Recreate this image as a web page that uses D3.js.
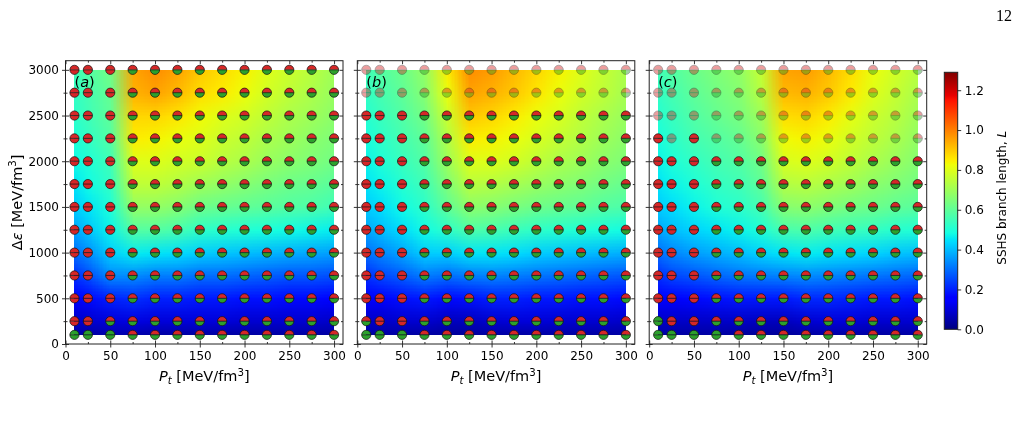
<!DOCTYPE html>
<html><head><meta charset="utf-8">
<script src="https://cdn.jsdelivr.net/npm/d3@7"></script>
<style>
body{margin:0;background:#fff}
#wrap{position:relative;width:1020px;height:421px;overflow:hidden}
#wrap canvas,#wrap svg{position:absolute;left:0;top:0}
</style></head>
<body><div id="wrap"><canvas id="cv" width="1020" height="421"></canvas><svg id="sv" width="1020" height="421"></svg></div>
<script>
// ---------------- data ----------------
const xGrid=[10,25,50,75,100,125,150,175,200,225,250,275,300];
const yGrid=[3000,2750,2500,2250,2000,1750,1500,1250,1000,750,500,250,100];
const xTicks=[0,50,100,150,200,250,300];
const xMinor=[25,75,125,175,225,275];
const yTicks=[0,500,1000,1500,2000,2500,3000];
const yMinor=[250,750,1250,1750,2250,2750];
const cbTicks=[0,0.2,0.4,0.6,0.8,1.0,1.2];
const panelLabels=["a","b","c"];

// branch length L, one array per column (x = xGrid[i]), values for y = yGrid (3000 -> 100)
const valuesA=[
 [0.55,0.53,0.52,0.50,0.48,0.45,0.42,0.37,0.30,0.22,0.15,0.08,0.04],
 [0.58,0.56,0.55,0.53,0.50,0.48,0.45,0.41,0.34,0.26,0.17,0.09,0.04],
 [0.63,0.61,0.60,0.58,0.55,0.53,0.50,0.47,0.42,0.34,0.20,0.10,0.05],
 [0.95,0.93,0.88,0.85,0.80,0.75,0.68,0.58,0.46,0.34,0.22,0.11,0.05],
 [0.98,0.95,0.88,0.84,0.80,0.75,0.68,0.58,0.45,0.32,0.20,0.10,0.04],
 [0.95,0.92,0.86,0.82,0.78,0.73,0.66,0.56,0.44,0.32,0.20,0.10,0.04],
 [0.90,0.87,0.83,0.80,0.77,0.70,0.62,0.52,0.42,0.30,0.19,0.10,0.04],
 [0.87,0.85,0.80,0.77,0.74,0.68,0.61,0.51,0.41,0.30,0.19,0.10,0.04],
 [0.84,0.82,0.78,0.75,0.72,0.66,0.60,0.50,0.40,0.29,0.18,0.09,0.04],
 [0.80,0.78,0.75,0.72,0.69,0.64,0.59,0.49,0.39,0.28,0.18,0.09,0.04],
 [0.77,0.75,0.72,0.70,0.67,0.62,0.58,0.48,0.38,0.27,0.17,0.09,0.04],
 [0.74,0.72,0.70,0.67,0.65,0.61,0.57,0.47,0.37,0.27,0.17,0.09,0.04],
 [0.70,0.69,0.67,0.65,0.63,0.59,0.55,0.46,0.36,0.26,0.16,0.08,0.04]
];
const valuesB=[
 [0.55,0.53,0.51,0.49,0.47,0.45,0.42,0.37,0.30,0.22,0.15,0.08,0.04],
 [0.58,0.56,0.54,0.52,0.50,0.47,0.44,0.40,0.33,0.25,0.16,0.08,0.04],
 [0.62,0.60,0.58,0.56,0.54,0.51,0.48,0.44,0.37,0.28,0.18,0.09,0.04],
 [0.68,0.66,0.63,0.60,0.58,0.55,0.52,0.48,0.42,0.32,0.19,0.09,0.04],
 [0.85,0.82,0.77,0.73,0.70,0.65,0.60,0.52,0.42,0.30,0.17,0.07,0.03],
 [0.98,0.95,0.90,0.85,0.80,0.74,0.67,0.57,0.45,0.32,0.18,0.07,0.03],
 [0.96,0.93,0.88,0.84,0.80,0.73,0.66,0.56,0.45,0.33,0.20,0.09,0.04],
 [0.92,0.90,0.85,0.82,0.78,0.71,0.64,0.54,0.44,0.32,0.20,0.10,0.04],
 [0.88,0.86,0.82,0.79,0.75,0.69,0.62,0.52,0.42,0.31,0.19,0.10,0.04],
 [0.84,0.82,0.79,0.76,0.72,0.67,0.61,0.51,0.41,0.30,0.19,0.09,0.04],
 [0.80,0.78,0.75,0.73,0.70,0.65,0.60,0.50,0.40,0.29,0.18,0.09,0.04],
 [0.76,0.75,0.72,0.70,0.67,0.63,0.58,0.49,0.39,0.28,0.18,0.09,0.04],
 [0.72,0.71,0.69,0.67,0.65,0.61,0.57,0.48,0.38,0.27,0.17,0.08,0.04]
];
const valuesC=[
 [0.55,0.53,0.51,0.49,0.47,0.45,0.42,0.37,0.30,0.22,0.15,0.08,0.04],
 [0.58,0.56,0.54,0.52,0.50,0.47,0.44,0.40,0.33,0.25,0.16,0.08,0.04],
 [0.62,0.60,0.58,0.56,0.53,0.50,0.47,0.43,0.36,0.27,0.17,0.08,0.04],
 [0.65,0.63,0.61,0.58,0.56,0.53,0.50,0.45,0.38,0.29,0.18,0.08,0.04],
 [0.68,0.66,0.64,0.61,0.58,0.55,0.52,0.47,0.40,0.31,0.19,0.08,0.03],
 [0.76,0.74,0.70,0.67,0.63,0.60,0.56,0.50,0.43,0.32,0.19,0.07,0.03],
 [0.95,0.92,0.87,0.83,0.79,0.73,0.66,0.56,0.45,0.33,0.19,0.07,0.03],
 [0.96,0.93,0.88,0.84,0.80,0.74,0.67,0.57,0.46,0.34,0.21,0.09,0.04],
 [0.92,0.90,0.85,0.82,0.78,0.72,0.65,0.55,0.45,0.33,0.21,0.10,0.04],
 [0.87,0.85,0.81,0.78,0.75,0.70,0.63,0.54,0.44,0.32,0.20,0.10,0.04],
 [0.82,0.80,0.77,0.75,0.72,0.67,0.62,0.53,0.43,0.31,0.19,0.09,0.04],
 [0.78,0.76,0.74,0.72,0.69,0.65,0.60,0.51,0.41,0.30,0.19,0.09,0.04],
 [0.74,0.72,0.70,0.68,0.66,0.63,0.59,0.50,0.40,0.29,0.18,0.09,0.04]
];
// marker state per row (y = yGrid), one char per x in xGrid:
// R = red/red, M = red top / green bottom, G = green/green; lowercase = faded
const statusA=[
 "RRRMMMMMMMMMM","RRRMMMMMMMMMM","RRRMMMMMMMMMM","RRRMMMMMMMMMM","RRRMMMMMMMMMM",
 "RRRMMMMMMMMMM","RRRMMMMMMMMMM","RRRMMMMMMMMMM","RRRMMMMMMMMMM","RRRMMMMMMMMMM",
 "RRRMMMMMMMMMM","RRMMMMMMMMMMM","GGGMMMMMMMMMM"
];
const statusB=[
 "rrrmmmmmmmmmm","rrrmmmmmmmmmm","RRRMMMMMMMMMM","RRRMMMMMMMMMM","RRRMMMMMMMMMM",
 "RRRMMMMMMMMMM","RRRMMMMMMMMMM","RRRMMMMMMMMMM","RRRMMMMMMMMMM","RRRMMMMMMMMMM",
 "RRRMMMMMMMMMM","MRRMMMMMMMMMM","GGGMMMMMMMMMM"
];
const statusC=[
 "rrrmmmmmmmmmm","rrrmmmmmmmmmm","rrrmmmmmmmmmm","RrRmmmmmmmmmm","RRRMMMMMMMMMM",
 "RRRMMMMMMMMMM","RRRMMMMMMMMMM","RRRMMMMMMMMMM","RRRMMMMMMMMMM","RRRMMMMMMMMMM",
 "RRRMMMMMMMMMM","GRRMMMMMMMMMM","GGGGMMMMMMMMM"
];

// ---------------- colour map (matplotlib jet) ----------------
const jetR=d3.scaleLinear().domain([0,0.35,0.66,0.89,1]).range([0,0,1,1,0.5]).clamp(true);
const jetG=d3.scaleLinear().domain([0,0.125,0.375,0.64,0.91,1]).range([0,0,1,1,0,0]).clamp(true);
const jetB=d3.scaleLinear().domain([0,0.11,0.34,0.65,1]).range([0.5,1,1,0,0]).clamp(true);
const jet=t=>d3.rgb(255*jetR(t),255*jetG(t),255*jetB(t));
const vMax=1.29;
const norm=d3.scaleLinear().domain([0,vMax]).range([0,1]).clamp(true);
const color=v=>jet(norm(v));

const RED="#d62728", GREEN="#2ca02c";

// ---------------- layout ----------------
const panelLeft=[65.5,357.3,649.2], panelW=277.5, plotTop=60.7, plotBottom=344;
const svg=d3.select("#sv");
const ctx=document.getElementById("cv").getContext("2d");
const FONT="DejaVu Sans, sans-serif";

function drawHeat(vals,xs,ys){
  const nx=xGrid.length, ny=yGrid.length;
  const tiny=document.createElement("canvas"); tiny.width=nx; tiny.height=ny;
  const tc=tiny.getContext("2d"); const img=tc.createImageData(nx,ny);
  for(let i=0;i<nx;i++)for(let j=0;j<ny;j++){
    const c=color(vals[i][j]); const k=(j*nx+i)*4;
    img.data[k]=c.r;img.data[k+1]=c.g;img.data[k+2]=c.b;img.data[k+3]=255;
  }
  tc.putImageData(img,0,0);
  ctx.imageSmoothingEnabled=true; ctx.imageSmoothingQuality="low";
  for(let i=0;i<nx-1;i++)for(let j=0;j<ny-1;j++){
    const x0=Math.round(xs(xGrid[i])), x1=Math.round(xs(xGrid[i+1]));
    const y0=Math.round(ys(yGrid[j])), y1=Math.round(ys(yGrid[j+1]));
    ctx.drawImage(tiny,i+0.5,j+0.5,1,1,x0,y0,x1-x0,y1-y0);
  }
}

const R=4.6;
const topHalf=`M${-R},0A${R},${R} 0 0 1 ${R},0Z`;
const botHalf=`M${-R},0A${R},${R} 0 0 0 ${R},0Z`;

const panels=[[valuesA,statusA],[valuesB,statusB],[valuesC,statusC]];
panels.forEach(([vals,stat],p)=>{
  const L=panelLeft[p];
  const xs=d3.scaleLinear().domain([0,310]).range([L,L+panelW]);
  const ys=d3.scaleLinear().domain([0,3100]).range([plotBottom,plotTop]);
  drawHeat(vals,xs,ys);
  const g=svg.append("g");
  const pts=[];
  yGrid.forEach((y,j)=>xGrid.forEach((x,i)=>pts.push({x,y,s:stat[j][i]})));
  const m=g.append("g").selectAll("g").data(pts).join("g")
    .attr("transform",d=>`translate(${xs(d.x)},${ys(d.y)})`)
    .attr("opacity",d=>d.s===d.s.toUpperCase()?1:0.45);
  m.append("path").attr("d",topHalf).attr("fill",d=>d.s.toUpperCase()==="G"?GREEN:RED);
  m.append("path").attr("d",botHalf).attr("fill",d=>d.s.toUpperCase()==="R"?RED:GREEN);
  m.append("circle").attr("r",R).attr("fill","none").attr("stroke","#111").attr("stroke-width",0.7);
  m.append("line").attr("x1",-R).attr("x2",R).attr("stroke","#111").attr("stroke-width",0.7);

  const style=a=>{a.select(".domain").remove();a.selectAll("line").attr("stroke","#000").attr("stroke-width",0.8);
    a.selectAll("text").attr("font-family",FONT).attr("font-size",12).attr("fill","#000");};
  g.append("g").attr("transform",`translate(0,${plotBottom})`).call(d3.axisBottom(xs).tickValues(xTicks).tickSize(3.5).tickPadding(3.5).tickFormat(d3.format("d"))).call(style);
  g.append("g").attr("transform",`translate(0,${plotBottom})`).call(d3.axisBottom(xs).tickValues(xTicks).tickSize(-3.5).tickFormat("")).call(style);
  g.append("g").attr("transform",`translate(0,${plotBottom})`).call(d3.axisBottom(xs).tickValues(xMinor).tickSize(-2).tickFormat("")).call(style);
  g.append("g").attr("transform",`translate(0,${plotTop})`).call(d3.axisTop(xs).tickValues(xTicks).tickSize(-3.5).tickFormat("")).call(style);
  g.append("g").attr("transform",`translate(0,${plotTop})`).call(d3.axisTop(xs).tickValues(xMinor).tickSize(-2).tickFormat("")).call(style);
  g.append("g").attr("transform",`translate(${L},0)`).call(d3.axisLeft(ys).tickValues(yTicks).tickSize(3.5).tickPadding(3).tickFormat(p===0?d3.format("d"):"")).call(style);
  g.append("g").attr("transform",`translate(${L},0)`).call(d3.axisLeft(ys).tickValues(yTicks).tickSize(-3.5).tickFormat("")).call(style);
  g.append("g").attr("transform",`translate(${L},0)`).call(d3.axisLeft(ys).tickValues(yMinor).tickSize(2).tickFormat("")).call(style);
  g.append("g").attr("transform",`translate(${L},0)`).call(d3.axisLeft(ys).tickValues(yMinor).tickSize(-2).tickFormat("")).call(style);
  g.append("g").attr("transform",`translate(${L+panelW},0)`).call(d3.axisRight(ys).tickValues(yTicks).tickSize(-3.5).tickFormat("")).call(style);
  g.append("g").attr("transform",`translate(${L+panelW},0)`).call(d3.axisRight(ys).tickValues(yMinor).tickSize(-2).tickFormat("")).call(style);
  g.append("rect").attr("x",L).attr("y",plotTop).attr("width",panelW).attr("height",plotBottom-plotTop)
    .attr("fill","none").attr("stroke","#222").attr("stroke-width",1);
  const t=g.append("text").attr("x",L+9).attr("y",87).attr("font-family",FONT).attr("font-size",14.5);
  t.append("tspan").text("(");
  t.append("tspan").attr("font-style","italic").text(panelLabels[p]);
  t.append("tspan").text(")");
  const xl=g.append("text").attr("x",L+panelW/2).attr("y",381).attr("text-anchor","middle")
    .attr("font-family",FONT).attr("font-size",14.5);
  xl.append("tspan").attr("font-style","italic").text("P");
  xl.append("tspan").attr("font-style","italic").attr("font-size",10.2).attr("dy",3).text("t");
  xl.append("tspan").attr("dy",-3).text(" [MeV/fm");
  xl.append("tspan").attr("font-size",10.2).attr("dy",-5.5).text("3");
  xl.append("tspan").attr("dy",5.5).text("]");
});

const yl=svg.append("text").attr("transform",`translate(21.5,${(plotTop+plotBottom)/2}) rotate(-90)`)
  .attr("text-anchor","middle").attr("font-family",FONT).attr("font-size",14.5);
yl.append("tspan").text("Δ");
yl.append("tspan").attr("font-style","italic").text("ε");
yl.append("tspan").text(" [MeV/fm");
yl.append("tspan").attr("font-size",10.2).attr("dy",-5.5).text("3");
yl.append("tspan").attr("dy",5.5).text("]");

// colorbar
const cbX=944.3, cbW=13.4, cbTop=72.3, cbBot=329.3;
const cs=d3.scaleLinear().domain([0,vMax]).range([cbBot,cbTop]);
const defs=svg.append("defs");
const grad=defs.append("linearGradient").attr("id","jetgrad").attr("x1",0).attr("y1",1).attr("x2",0).attr("y2",0);
[0,0.11,0.125,0.34,0.35,0.375,0.64,0.65,0.66,0.89,0.91,1].forEach(s=>
  grad.append("stop").attr("offset",s).attr("stop-color",jet(s).formatHex()));
svg.append("rect").attr("x",cbX).attr("y",cbTop).attr("width",cbW).attr("height",cbBot-cbTop)
  .attr("fill","url(#jetgrad)").attr("stroke","#222").attr("stroke-width",1);
const cax=svg.append("g").attr("transform",`translate(${cbX+cbW},0)`)
  .call(d3.axisRight(cs).tickValues(cbTicks).tickSize(3.5).tickPadding(3.5).tickFormat(d3.format(".1f")));
cax.select(".domain").remove();
cax.selectAll("line").attr("stroke","#000").attr("stroke-width",0.8);
cax.selectAll("text").attr("font-family",FONT).attr("font-size",12).attr("fill","#000");
const cl=svg.append("text").attr("transform",`translate(1005.5,${(cbTop+cbBot)/2-3}) rotate(-90)`)
  .attr("text-anchor","middle").attr("font-family",FONT).attr("font-size",12);
cl.append("tspan").text("SSHS branch length, ");
cl.append("tspan").attr("font-style","italic").text("L");

svg.append("text").attr("x",1012).attr("y",21).attr("text-anchor","end")
  .attr("font-family","Liberation Serif, DejaVu Serif, serif").attr("font-size",16).text("12");
</script></body></html>
